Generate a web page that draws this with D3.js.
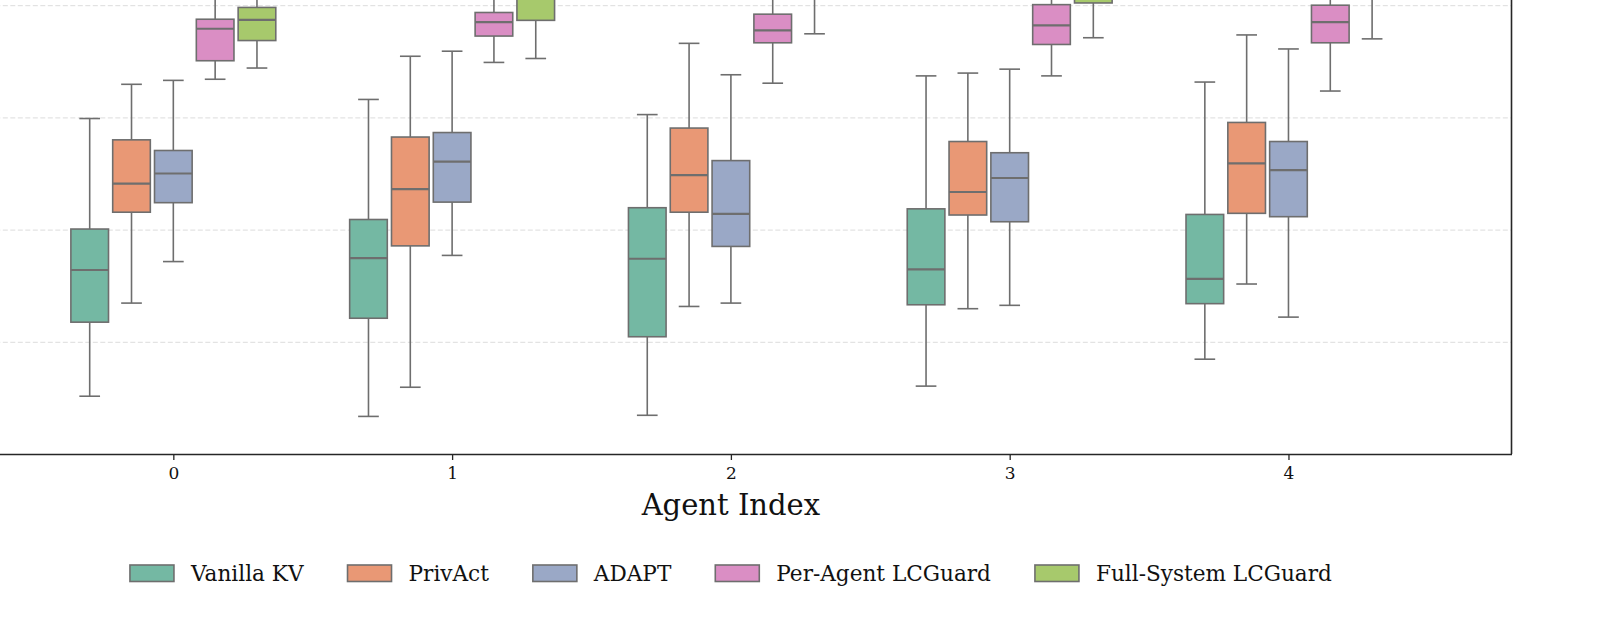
<!DOCTYPE html>
<html>
<head>
<meta charset="utf-8">
<script src="https://cdn.jsdelivr.net/npm/d3@7"></script>
<style>
  body { margin: 0; background: #fff; }
  svg { display: block; font-family: "DejaVu Serif", serif; }
</style>
</head>
<body>
<script>
var W = 1620;
var H = 630;

// agents on the x axis
var agents = [0, 1, 2, 3, 4];
var seriesNames = ["Vanilla KV", "PrivAct", "ADAPT", "Per-Agent LCGuard", "Full-System LCGuard"];
var seriesColors = ["#74b8a3", "#e99875", "#9aa8c6", "#da8ec4", "#a7c96c"];

// box stats per agent: [whisker low, q1, median, q3, whisker high]
var vanillaKV = [
    [0.103, 0.235, 0.328, 0.401, 0.598],
    [0.067, 0.242, 0.349, 0.418, 0.632],
    [0.069, 0.209, 0.348, 0.439, 0.605],
    [0.121, 0.266, 0.329, 0.437, 0.674],
    [0.169, 0.268, 0.312, 0.427, 0.663]
];
var privAct = [
    [0.269, 0.431, 0.482, 0.560, 0.659],
    [0.119, 0.371, 0.472, 0.565, 0.709],
    [0.263, 0.431, 0.497, 0.581, 0.732],
    [0.259, 0.426, 0.467, 0.557, 0.679],
    [0.303, 0.429, 0.518, 0.591, 0.747]
];
var adapt = [
    [0.343, 0.448, 0.500, 0.541, 0.666],
    [0.354, 0.449, 0.521, 0.573, 0.718],
    [0.269, 0.370, 0.428, 0.523, 0.676],
    [0.265, 0.414, 0.492, 0.537, 0.686],
    [0.244, 0.423, 0.506, 0.557, 0.722]
];
var perAgentLCGuard = [
    [0.668, 0.701, 0.758, 0.775, 0.860],
    [0.698, 0.745, 0.770, 0.787, 0.855],
    [0.661, 0.733, 0.755, 0.784, 0.850],
    [0.674, 0.730, 0.764, 0.801, 0.870],
    [0.647, 0.733, 0.770, 0.800, 0.875]
];
var fullSystemLCGuard = [
    [0.688, 0.737, 0.774, 0.796, 0.880],
    [0.705, 0.773, 0.815, 0.835, 0.900],
    [0.749, 0.820, 0.845, 0.865, 0.925],
    [0.742, 0.804, 0.830, 0.850, 0.910],
    [0.740, 0.820, 0.840, 0.860, 0.920]
];
var yTicks = [0, 0.2, 0.4, 0.6, 0.8, 1.0];

var allSeries = [vanillaKV, privAct, adapt, perAgentLCGuard, fullSystemLCGuard];

// plot area (left and top run past the picture edge)
var plotLeft = -49.7, plotRight = 1511.5;
var plotTop = -107, plotBottom = 454;

var svg = d3.select("body")
    .append("svg")
    .attr("width", W)
    .attr("height", H);

svg.append("rect").attr("width", W).attr("height", H).attr("fill", "#fff");

var xScale = d3.scaleLinear()
    .domain([-0.8, 4.8])
    .range([plotLeft, plotRight]);

var yScale = d3.scaleLinear()
    .domain([0, 1])
    .range([plotBottom, plotTop]);

// hue offsets inside each agent slot
var hueScale = d3.scalePoint()
    .domain(seriesNames)
    .range([-0.3, 0.3]);

var boxW = xScale(0.135) - xScale(0);
var capW = boxW * 0.55;
var lineColor = "#6e6e6e";

// grid lines
var grid = svg.append("g")
    .attr("transform", "translate(" + plotLeft + ",0)")
    .call(d3.axisLeft(yScale)
        .tickValues(yTicks)
        .tickSize(-(plotRight - plotLeft))
        .tickFormat(""));
grid.select(".domain").remove();
grid.selectAll("line")
    .attr("stroke", "#dcdcdc")
    .attr("stroke-width", 1)
    .attr("stroke-dasharray", "5,2.5");

// flatten to one record per box
var boxes = [];
allSeries.forEach(function (s, si) {
    s.forEach(function (d, ai) {
        boxes.push({ series: seriesNames[si], color: seriesColors[si], agent: agents[ai], st: d });
    });
});

var g = svg.selectAll(".box")
    .data(boxes)
    .enter()
    .append("g")
    .attr("class", "box")
    .attr("transform", function (d) {
        return "translate(" + xScale(d.agent + hueScale(d.series)) + ",0)";
    });

// whiskers
g.append("line")
    .attr("x1", 0).attr("x2", 0)
    .attr("y1", function (d) { return yScale(d.st[0]); })
    .attr("y2", function (d) { return yScale(d.st[1]); })
    .attr("stroke", lineColor).attr("stroke-width", 1.6);
g.append("line")
    .attr("x1", 0).attr("x2", 0)
    .attr("y1", function (d) { return yScale(d.st[3]); })
    .attr("y2", function (d) { return yScale(d.st[4]); })
    .attr("stroke", lineColor).attr("stroke-width", 1.6);
// caps
[0, 4].forEach(function (k) {
    g.append("line")
        .attr("x1", -capW / 2).attr("x2", capW / 2)
        .attr("y1", function (d) { return yScale(d.st[k]); })
        .attr("y2", function (d) { return yScale(d.st[k]); })
        .attr("stroke", lineColor).attr("stroke-width", 1.6);
});
// box
g.append("rect")
    .attr("x", -boxW / 2)
    .attr("width", boxW)
    .attr("y", function (d) { return yScale(d.st[3]); })
    .attr("height", function (d) { return yScale(d.st[1]) - yScale(d.st[3]); })
    .attr("fill", function (d) { return d.color; })
    .attr("stroke", lineColor)
    .attr("stroke-width", 1.6);
// median
g.append("line")
    .attr("x1", -boxW / 2).attr("x2", boxW / 2)
    .attr("y1", function (d) { return yScale(d.st[2]); })
    .attr("y2", function (d) { return yScale(d.st[2]); })
    .attr("stroke", lineColor).attr("stroke-width", 2.2);

// x axis
var xAxis = d3.axisBottom(xScale)
    .tickValues(agents)
    .tickFormat(d3.format("d"))
    .tickSize(6)
    .tickSizeOuter(0);
var xAxisGroup = svg.append("g")
    .attr("transform", "translate(0," + plotBottom + ")")
    .call(xAxis);
xAxisGroup.select(".domain").attr("stroke", "#262626").attr("stroke-width", 1.6);
xAxisGroup.selectAll(".tick line").attr("stroke", "#262626").attr("stroke-width", 1.3);
xAxisGroup.selectAll(".tick text")
    .attr("y", 13)
    .attr("dy", "0.71em")
    .attr("font-size", 17)
    .attr("font-family", "DejaVu Serif")
    .attr("fill", "#111");

// right spine
svg.append("line")
    .attr("x1", plotRight).attr("x2", plotRight)
    .attr("y1", plotTop).attr("y2", plotBottom)
    .attr("stroke", "#262626").attr("stroke-width", 1.6);

// axis title
svg.append("text")
    .attr("x", (plotLeft + plotRight) / 2)
    .attr("y", 515)
    .attr("text-anchor", "middle")
    .attr("font-size", 29)
    .attr("fill", "#111")
    .text("Agent Index");

// legend, centred under the plot
var patchW = 44, patchH = 16.5, textPad = 17, colGap = 44;
var legend = svg.append("g");
var items = legend.selectAll("g")
    .data(seriesNames)
    .enter()
    .append("g");
items.append("rect")
    .attr("width", patchW).attr("height", patchH)
    .attr("y", 565)
    .attr("fill", function (d, i) { return seriesColors[i]; })
    .attr("stroke", lineColor).attr("stroke-width", 1.6);
items.append("text")
    .attr("x", patchW + textPad)
    .attr("y", 581)
    .attr("font-size", 21.6)
    .attr("fill", "#111")
    .text(function (d) { return d; });

var xpos = 0, offsets = [];
items.each(function () {
    offsets.push(xpos);
    xpos += patchW + textPad + d3.select(this).select("text").node().getComputedTextLength() + colGap;
});
var totalW = xpos - colGap;
var startX = (plotLeft + plotRight) / 2 - totalW / 2;
items.attr("transform", function (d, i) { return "translate(" + (startX + offsets[i]) + ",0)"; });
</script>
</body>
</html>
